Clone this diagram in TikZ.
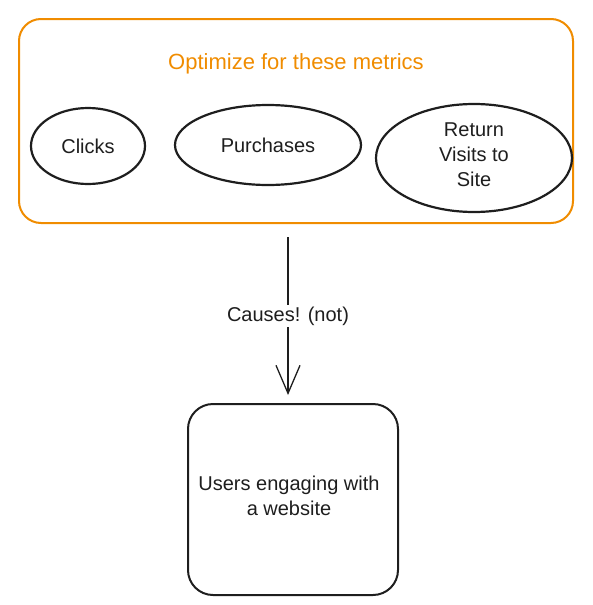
\documentclass[tikz,border=0pt]{standalone}
\usepackage{fontspec}
\setmainfont{Liberation Sans}
\usetikzlibrary{arrows.meta,shapes.geometric}
\definecolor{exorange}{HTML}{F08C00}
\definecolor{exblack}{HTML}{1E1E1E}
\tikzset{
  x=1pt, y=-1pt,
  metric/.style={draw=exblack, line width=2.2pt, shape=ellipse, inner sep=0pt, font=\fontsize{20}{25}\selectfont, text=exblack, align=center},
  lbl/.style={font=\fontsize{20}{25}\selectfont, text=exblack, align=center},
}
\begin{document}
\begin{tikzpicture}
\useasboundingbox (0,0) rectangle (592,605);
% orange container
\node[draw=exorange, line width=2pt, rounded corners=22pt, minimum width=554pt, minimum height=204pt, inner sep=0pt] (group) at (296,121) {};
\node[font=\fontsize{22}{26}\selectfont, text=exorange] (title) at (296,64) {Optimize for these metrics};
% metrics
\node[metric, minimum width=114pt, minimum height=76pt] (clicks) at (88,146) {Clicks};
\node[metric, minimum width=186pt, minimum height=80pt] (purch) at (268,145) {Purchases};
\node[metric, minimum width=196pt, minimum height=108pt] (ret) at (474,158) {};
\node[lbl] (rettext) at (474,155) {Return\\Visits to\\Site};
% target
\node[draw=exblack, line width=2pt, rounded corners=25pt, minimum width=210pt, minimum height=191pt, inner sep=0pt] (users) at (293,499.5) {};
\node[lbl] (utext) at (289,496) {Users engaging with\\a website};
% arrow
\coordinate (astart) at (288,237);
\coordinate (aend) at (288,395);
\draw[exblack, line width=1.3pt, -{Straight Barb[length=28pt,width=24pt,line width=1.3pt]}] (astart) -- node[fill=white, lbl, inner sep=2pt] (cause) {Causes! (not)} (aend);
\end{tikzpicture}
\end{document}
